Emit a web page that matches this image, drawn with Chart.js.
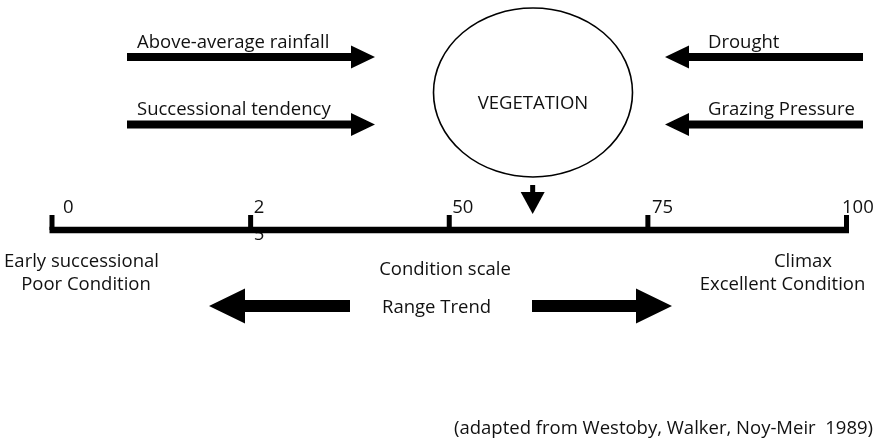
<!DOCTYPE html>
<html><head><meta charset="utf-8">
<script src="https://cdn.jsdelivr.net/npm/chart.js@4.4.0/dist/chart.umd.min.js"></script>
<style>html,body{margin:0;padding:0;background:#fff;overflow:hidden}#wrap{width:875px;height:439px}</style>
</head><body><div id="wrap"><canvas id="c" width="875" height="439"></canvas></div>
<script>
// ---- data ----
const scaleTicks = [0, 25, 50, 75, 100];
const tickLabels = ['0', ['2', '5'], '50', '75', '100'];
const currentCondition = [60.5];
const positiveDrivers = ['Above-average rainfall', 'Successional tendency'];
const negativeDrivers = ['Drought', 'Grazing Pressure'];
const centreLabel = 'VEGETATION';
const poorEndLabels = ['Early successional', 'Poor Condition'];
const goodEndLabels = ['Climax', 'Excellent Condition'];
const scaleTitle = 'Condition scale';
const trendTitle = 'Range Trend';
const sourceNote = '(adapted from Westoby, Walker, Noy-Meir  1989)';

// ---- layout (pixels) ----
const L = {
  font: '"Open Sans", sans-serif', size: 18.5, color: '#111',
  barY: 230, barW: 6.5, tickTop: 215, tickW: 5,
  labelBase: 213, labelDx: [11, 3, 3, 4, -4.5], lineGap: 27,
  driverRows: [57, 124.5], driverTextBase: [48, 115],
  leftArrow: {x0: 127, x1: 375}, rightArrow: {x0: 863, x1: 665},
  driverTextX: {left: 137, right: 708},
  arrowShaft: 8, arrowHeadLen: 24, arrowHeadH: 23,
  ellipse: {cx: 533, cy: 92.5, rx: 99.5, ry: 84.5, lw: 1.6},
  centreBase: 109,
  down: {top: 185, shaftEnd: 192, tip: 214, shaftW: 5, headW: 24},
  poorX: [81.5, 86], goodX: [803, 782.5], endBase: [267, 290],
  scaleTitleX: 445, scaleTitleBase: 275,
  trend: {y: 306, leftTip: 209, leftTail: 350, rightTail: 532, rightTip: 672, shaft: 12, headLen: 36, headH: 35},
  trendX: 436.5, trendBase: 313,
  noteRight: 873, noteBase: 434
};

function arrow(ctx, tail, tip, y, shaft, headLen, headH) {
  const d = tip > tail ? 1 : -1;
  const base = tip - d * headLen;
  ctx.beginPath();
  ctx.moveTo(tail, y - shaft / 2);
  ctx.lineTo(base, y - shaft / 2);
  ctx.lineTo(base, y - headH / 2);
  ctx.lineTo(tip, y);
  ctx.lineTo(base, y + headH / 2);
  ctx.lineTo(base, y + shaft / 2);
  ctx.lineTo(tail, y + shaft / 2);
  ctx.closePath();
  ctx.fill();
}

const diagram = {
  id: 'diagram',
  afterDraw(chart) {
    const ctx = chart.ctx, xs = chart.scales.x, ys = chart.scales.y;
    ctx.save();
    ctx.fillStyle = '#000';
    ctx.strokeStyle = '#000';
    ctx.font = L.size + 'px ' + L.font;
    ctx.textBaseline = 'alphabetic';

    // driver arrows and labels
    L.driverRows.forEach((yy, i) => {
      const y = ys.getPixelForValue(yy);
      ctx.fillStyle = '#000';
      arrow(ctx, L.leftArrow.x0, L.leftArrow.x1, y, L.arrowShaft, L.arrowHeadLen, L.arrowHeadH);
      arrow(ctx, L.rightArrow.x0, L.rightArrow.x1, y, L.arrowShaft, L.arrowHeadLen, L.arrowHeadH);
      ctx.fillStyle = L.color;
      ctx.textAlign = 'left';
      ctx.fillText(positiveDrivers[i], L.driverTextX.left, L.driverTextBase[i]);
      ctx.fillText(negativeDrivers[i], L.driverTextX.right, L.driverTextBase[i]);
    });

    // vegetation ellipse
    const e = L.ellipse;
    ctx.lineWidth = e.lw;
    ctx.beginPath();
    ctx.ellipse(e.cx, e.cy, e.rx, e.ry, 0, 0, Math.PI * 2);
    ctx.stroke();
    ctx.textAlign = 'center';
    ctx.fillText(centreLabel, e.cx, L.centreBase);

    // current condition marker
    ctx.fillStyle = '#000';
    currentCondition.forEach(v => {
      const x = xs.getPixelForValue(v), d = L.down;
      ctx.fillRect(x - d.shaftW / 2, d.top, d.shaftW, d.shaftEnd - d.top);
      ctx.beginPath();
      ctx.moveTo(x - d.headW / 2, d.shaftEnd);
      ctx.lineTo(x + d.headW / 2, d.shaftEnd);
      ctx.lineTo(x, d.tip);
      ctx.closePath();
      ctx.fill();
    });

    // tick labels (drawn before bar)
    ctx.fillStyle = L.color;
    ctx.textAlign = 'left';
    scaleTicks.forEach((v, i) => {
      const x = xs.getPixelForValue(v) + L.labelDx[i];
      const lab = Array.isArray(tickLabels[i]) ? tickLabels[i] : [tickLabels[i]];
      lab.forEach((t, j) => ctx.fillText(t, x, L.labelBase + j * L.lineGap));
    });

    // condition scale bar and ticks
    ctx.fillStyle = '#000';
    const x0 = xs.getPixelForValue(scaleTicks[0]) - L.tickW / 2;
    const x1 = xs.getPixelForValue(scaleTicks[scaleTicks.length - 1]) + L.tickW / 2;
    ctx.fillRect(x0, L.barY - L.barW / 2, x1 - x0, L.barW);
    scaleTicks.forEach(v => {
      const x = xs.getPixelForValue(v);
      ctx.fillRect(x - L.tickW / 2, L.tickTop, L.tickW, L.barY - L.tickTop);
    });

    // end labels
    ctx.fillStyle = L.color;
    ctx.textAlign = 'center';
    poorEndLabels.forEach((t, i) => ctx.fillText(t, L.poorX[i], L.endBase[i]));
    goodEndLabels.forEach((t, i) => ctx.fillText(t, L.goodX[i], L.endBase[i]));
    ctx.fillText(scaleTitle, L.scaleTitleX, L.scaleTitleBase);
    ctx.fillText(trendTitle, L.trendX, L.trendBase);

    // range trend arrows
    ctx.fillStyle = '#000';
    const t = L.trend;
    arrow(ctx, t.leftTail, t.leftTip, t.y, t.shaft, t.headLen, t.headH);
    arrow(ctx, t.rightTail, t.rightTip, t.y, t.shaft, t.headLen, t.headH);

    // source
    ctx.fillStyle = L.color;
    ctx.textAlign = 'right';
    ctx.fillText(sourceNote, L.noteRight, L.noteBase);
    ctx.restore();
  }
};

new Chart(document.getElementById('c'), {
  type: 'scatter',
  data: { datasets: [{ data: [], pointRadius: 0 }] },
  options: {
    responsive: false, animation: false,
    layout: { padding: { left: 52, right: 28.5, top: 0, bottom: 0 } },
    plugins: { legend: { display: false }, tooltip: { enabled: false } },
    scales: {
      x: { type: 'linear', min: 0, max: 100, display: false },
      y: { type: 'linear', min: 0, max: 439, reverse: true, display: false }
    }
  },
  plugins: [diagram]
});
</script></body></html>
